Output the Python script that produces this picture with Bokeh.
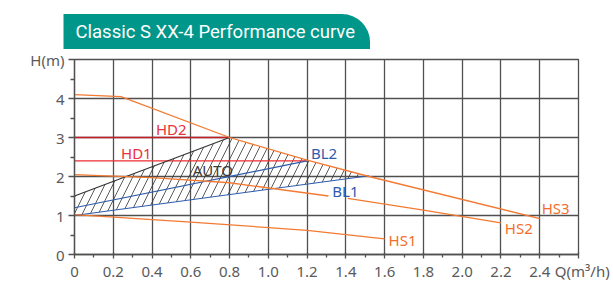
from bokeh.plotting import figure
from bokeh.models import Range1d, FixedTicker, Title
from bokeh.embed import file_html
from bokeh.resources import INLINE
from bokeh.core.properties import value

# ---- data ----
x_ticks = [0, 0.2, 0.4, 0.6, 0.8, 1.0, 1.2, 1.4, 1.6, 1.8, 2.0, 2.2, 2.4, 2.6]
x_labels = ["0", "0.2", "0.4", "0.6", "0.8", "1.0", "1.2", "1.4", "1.6", "1.8", "2.0", "2.2", "2.4",
            "\u2002Q(m\u00b3/h)"]
x_minor = [0.1, 0.3, 0.5, 0.7, 0.9, 1.1, 1.3, 1.5, 1.7, 1.9, 2.1, 2.3, 2.5]
y_ticks = [0, 1, 2, 3, 4, 5]
y_labels = ["0", "1", "2", "3", "4", "H(m)"]
y_minor = [0.5, 1.5, 2.5, 3.5, 4.5]

q_hs3 = [0, 0.24, 0.8, 1.2, 1.52, 2.4]
h_hs3 = [4.1, 4.05, 3.0, 2.42, 2.0, 0.92]
q_hs2a = [0, 0.4, 0.8, 1.31]
h_hs2a = [2.05, 1.97, 1.84, 1.5]
q_hs2b = [1.41, 1.8, 2.2]
h_hs2b = [1.44, 1.14, 0.81]
q_hs1 = [0, 0.6, 1.2, 1.6]
h_hs1 = [1.02, 0.83, 0.62, 0.40]
q_hd2 = [0, 0.8]
h_hd2 = [3.0, 3.0]
q_hd1 = [0, 1.2]
h_hd1 = [2.4, 2.4]
q_auto = [0, 0.8]
h_auto = [1.5, 3.0]
q_bl2 = [0, 1.2]
h_bl2 = [1.2, 2.4]
q_bl1 = [0, 1.52]
h_bl1 = [1.0, 2.02]

lab_text = ["HD2", "HD1", "AUTO", "BL2", "BL1", "HS3", "HS2", "HS1"]
lab_q = [0.42, 0.24, 0.61, 1.22, 1.33, 2.41, 2.22, 1.62]
lab_h = [3.22, 2.59, 2.17, 2.6, 1.63, 1.18, 0.69, 0.37]
lab_col = ["#e8323a", "#e8323a", "#3a3a3a", "#2c5bb0", "#2c5bb0", "#f26f2b", "#f26f2b", "#f26f2b"]

title_text = "Classic S XX-4 Performance curve"

ORANGE = "#f37a32"
GRID = "#505050"
FONT = "Noto Sans"

p = figure(output_backend="svg", toolbar_location=None,
           x_range=Range1d(0, 2.6), y_range=Range1d(0, 5),
           frame_width=504, frame_height=195,
           min_border_left=74, min_border_right=34, min_border_top=59, min_border_bottom=26)
p.background_fill_color = "white"
p.border_fill_color = "white"
p.outline_line_color = GRID
p.outline_line_width = 1.3

p.title = Title(text=title_text, align="left", offset=-11, standoff=21,
                text_font="Roboto", text_font_size="18.5px", text_font_style="normal",
                text_color="white", background_fill_color="#00968a",
                padding=(12, 15, 7, 6), border_radius=(0, 28, 0, 0))
p.title_location = "above"

# axes
p.xaxis.ticker = FixedTicker(ticks=x_ticks, minor_ticks=x_minor)
p.yaxis.ticker = FixedTicker(ticks=y_ticks, minor_ticks=y_minor)
p.xaxis.major_label_overrides = {t: l for t, l in zip(x_ticks, x_labels)}
p.yaxis.major_label_overrides = {t: l for t, l in zip(y_ticks, y_labels)}
for ax in (p.xaxis, p.yaxis):
    ax.axis_line_color = GRID
    ax.axis_line_width = 1.3
    ax.major_tick_line_color = GRID
    ax.minor_tick_line_color = GRID
    ax.major_tick_line_width = 1.3
    ax.minor_tick_line_width = 1.3
    ax.major_label_text_font = FONT
    ax.major_label_text_font_size = "15px"
    ax.major_label_text_color = "#5a5a5a"
p.xaxis.major_tick_in = 2
p.xaxis.major_tick_out = 4
p.xaxis.minor_tick_in = 0
p.xaxis.minor_tick_out = 3
p.xaxis.major_label_standoff = 2
p.yaxis.major_tick_in = 0
p.yaxis.major_tick_out = 6
p.yaxis.minor_tick_in = 0
p.yaxis.minor_tick_out = 4
p.yaxis.major_label_standoff = 4

p.xgrid.ticker = FixedTicker(ticks=x_ticks)
p.ygrid.ticker = FixedTicker(ticks=y_ticks)
for g in (p.xgrid, p.ygrid):
    g.grid_line_color = GRID
    g.grid_line_width = 1.3

# hatched AUTO region
hq = q_auto + q_hs3[3:5] + q_bl1[::-1]
hh = h_auto + h_hs3[3:5] + h_bl1[::-1]
p.patch(hq, hh, fill_color=None, line_color=None,
        hatch_pattern="/", hatch_color="#333333", hatch_weight=0.9, hatch_scale=16, hatch_alpha=0.9)

# curves
p.line(q_hd2, h_hd2, line_color="#c0202a", line_width=1.3)
p.line(q_hd1, h_hd1, line_color="#ee2b2f", line_width=1.1)
p.line(q_auto, h_auto, line_color="#333333", line_width=1.1)
p.line(q_bl2, h_bl2, line_color="#2e5caa", line_width=1.1)
p.line(q_bl1, h_bl1, line_color="#2e5caa", line_width=1.1)
p.line(q_hs3, h_hs3, line_color=ORANGE, line_width=1.3)
p.line(q_hs2a, h_hs2a, line_color=ORANGE, line_width=1.3)
p.line(q_hs2b, h_hs2b, line_color=ORANGE, line_width=1.3)
p.line(q_hs1, h_hs1, line_color=ORANGE, line_width=1.3)

p.text(x=lab_q, y=lab_h, text=lab_text, text_color=lab_col,
       text_font=value(FONT), text_font_size="15px",
       text_align="left", text_baseline="middle")

open("out.html", "w").write(file_html(p, INLINE))
